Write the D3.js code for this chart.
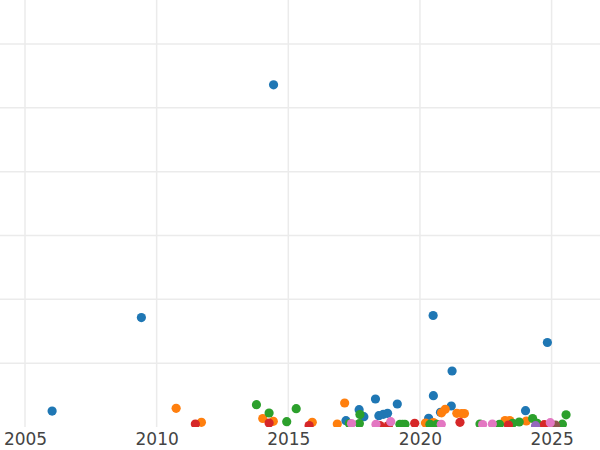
<!DOCTYPE html>
<html>
<head>
<meta charset="utf-8">
<script src="https://cdn.jsdelivr.net/npm/d3@7"></script>
<style>
  body { margin: 0; background: #fff; }
  svg { display: block; }
</style>
</head>
<body>
<div id="entry"></div>
<script>
var width = 600, height = 450, plotBottom = 427;

// x tick labels / gridlines
var yearTicks = [2005, 2010, 2015, 2020, 2025];
var valueTicks = [100, 200, 300, 400, 500, 600];

// one pair of arrays per series (year, value)
var blueYears  = [2006.03, 2009.42, 2014.44, 2020.50, 2024.84, 2021.22, 2020.51, 2018.31, 2019.14, 2017.69,
                  2017.87, 2018.44, 2018.61, 2018.77, 2017.19, 2021.19, 2020.78, 2020.33, 2024.01];
var blueValues = [25, 171.5, 536, 174.7, 132.4, 87.7, 49, 43.9, 36, 27.1,
                  16.1, 17.7, 19.9, 21.5, 9.9, 32.9, 23, 13.6, 25.5];

var orangeYears  = [2010.74, 2011.70, 2014.03, 2014.43, 2015.91, 2016.86, 2017.14, 2020.21, 2020.51, 2020.82,
                    2020.96, 2021.40, 2021.58, 2021.69, 2023.23, 2023.41, 2024.04];
var orangeValues = [29.3, 7.4, 13.3, 8.9, 7.4, 4.7, 37.6, 6.3, 7, 22.2,
                    27.7, 21.5, 21, 21, 10.2, 10.2, 9.4];

var greenYears  = [2013.79, 2014.27, 2014.94, 2015.30, 2017.32, 2017.72, 2017.70, 2019.24, 2019.34, 2019.43,
                   2020.38, 2020.64, 2022.28, 2023.02, 2023.52, 2023.77, 2024.28, 2024.45, 2025.41, 2025.55];
var greenValues = [35, 21.9, 8.3, 28.7, 5.5, 19.6, 5.5, 4.2, 4, 4.2,
                   4.2, 4.2, 4.7, 4.2, 5.8, 7.8, 13.3, 5.8, 4.4, 19.1];

var redYears  = [2011.47, 2014.27, 2015.79, 2018.48, 2018.80, 2019.80, 2021.52, 2023.36, 2024.72];
var redValues = [4.7, 6.3, 2.3, 2.3, 2.3, 5.8, 7.4, 3.1, 3.6];

var purpleYears  = [2024.39];
var purpleValues = [2];

var brownYears  = [2025.15];
var brownValues = [2.8];

var pinkYears  = [2017.40, 2018.33, 2018.89, 2020.81, 2022.38, 2022.75, 2024.95];
var pinkValues = [5.5, 4.2, 8.3, 4.2, 3.9, 4.7, 6.7];

var series = [
  {color: '#1f77b4', years: blueYears, values: blueValues},
  {color: '#ff7f0e', years: orangeYears, values: orangeValues},
  {color: '#2ca02c', years: greenYears, values: greenValues},
  {color: '#d62728', years: redYears, values: redValues},
  {color: '#9467bd', years: purpleYears, values: purpleValues},
  {color: '#8c564b', years: brownYears, values: brownValues},
  {color: '#e377c2', years: pinkYears, values: pinkValues}
];

var x = d3.scaleLinear().domain([2005, 2025]).range([25, 551.6]);
var y = d3.scaleLinear().domain([0, 100]).range([plotBottom, plotBottom - 63.83]);

var svg = d3.select('#entry').append('svg')
  .attr('width', width)
  .attr('height', height);

svg.append('clipPath').attr('id', 'plot')
  .append('rect').attr('x', 0).attr('y', 0).attr('width', width).attr('height', plotBottom);

var plot = svg.append('g').attr('clip-path', 'url(#plot)');

// gridlines
plot.append('g')
  .selectAll('line.v')
  .data(yearTicks)
  .enter().append('line')
  .attr('x1', function(d) { return x(d); })
  .attr('x2', function(d) { return x(d); })
  .attr('y1', 0).attr('y2', plotBottom)
  .attr('stroke', '#ebebeb').attr('stroke-width', 1.5);

plot.append('g')
  .selectAll('line.h')
  .data(valueTicks)
  .enter().append('line')
  .attr('x1', 0).attr('x2', width)
  .attr('y1', function(d) { return y(d); })
  .attr('y2', function(d) { return y(d); })
  .attr('stroke', '#ebebeb').attr('stroke-width', 1.5);

// points
series.forEach(function(s) {
  plot.append('g')
    .selectAll('circle')
    .data(d3.range(s.years.length))
    .enter().append('circle')
    .attr('cx', function(i) { return x(s.years[i]); })
    .attr('cy', function(i) { return y(s.values[i]); })
    .attr('r', 4.6)
    .style('fill', s.color);
});

// x axis labels
var xAxis = d3.axisBottom(x).tickValues(yearTicks).tickSize(0).tickPadding(6).tickFormat(d3.format('d'));
var gx = svg.append('g')
  .attr('transform', 'translate(0,' + plotBottom + ')')
  .call(xAxis);
gx.select('.domain').remove();
gx.selectAll('text')
  .attr('fill', '#444')
  .style('font-family', 'DejaVu Sans')
  .style('font-size', '17px');
</script>
</body>
</html>
